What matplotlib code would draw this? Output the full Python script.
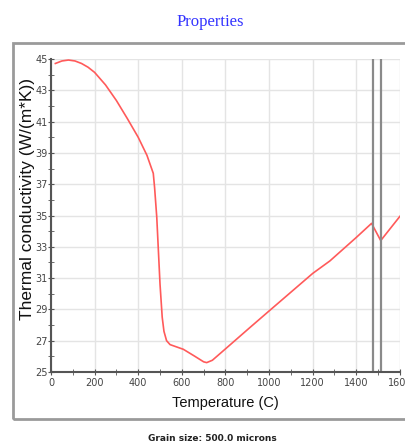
import matplotlib.pyplot as plt
from matplotlib.patches import Rectangle
from matplotlib.ticker import MultipleLocator

temperature = [20, 50, 80, 110, 140, 170, 200, 250, 300, 350, 400, 440, 469, 475, 485, 500,
               510, 518, 530, 546, 607, 660, 700, 714, 740, 806, 912, 1000, 1100, 1200,
               1279, 1400, 1470, 1512, 1600]
conductivity = [44.72, 44.88, 44.94, 44.88, 44.72, 44.48, 44.15, 43.35, 42.35, 41.2, 40.0,
                38.85, 37.7, 36.8, 34.9, 30.6, 28.5, 27.6, 27.0, 26.75, 26.45, 26.0, 25.65,
                25.6, 25.75, 26.55, 27.84, 28.9, 30.1, 31.3, 32.1, 33.6, 34.5, 33.4, 34.95]
phase_lines = [1475, 1512]

tick_font = ['DejaVu Sans Condensed', 'Liberation Sans Narrow', 'DejaVu Sans']

fig = plt.figure(figsize=(4.06, 4.47), dpi=100)
ax = fig.add_axes([0.1256, 0.1678, 0.8594, 0.700])

# grey frame around the plot panel
fig.patches.append(Rectangle((0.032, 0.0626), 1.2, 0.8414, transform=fig.transFigure,
                             fill=False, edgecolor='#9a9a9a', linewidth=2))

ax.plot(temperature, conductivity, color='#ff5a5a', linewidth=1.2)
for t in phase_lines:
    ax.axvline(t, color='#8a8a8a', linewidth=1.6)

ax.set_xlim(0, 1600)
ax.set_ylim(25, 45)
ax.xaxis.set_major_locator(MultipleLocator(200))
ax.xaxis.set_minor_locator(MultipleLocator(100))
ax.set_yticks(range(25, 46, 2))
ax.yaxis.set_minor_locator(MultipleLocator(1))
ax.grid(True, which='major', color='#e4e4e4', linewidth=1)
ax.set_axisbelow(True)

for side in ['top', 'right']:
    ax.spines[side].set_visible(False)
for side in ['left', 'bottom']:
    ax.spines[side].set_color('#555555')
    ax.spines[side].set_linewidth(1.5)

ax.tick_params(which='both', direction='inout', colors='#555555', labelcolor='#444444',
               labelsize=7)
ax.tick_params(axis='x', pad=1.5)
ax.tick_params(axis='y', pad=0)
ax.tick_params(which='major', length=5)
ax.tick_params(which='minor', length=4)
for lbl in ax.get_xticklabels() + ax.get_yticklabels():
    lbl.set_family(tick_font)

ax.set_xlabel('Temperature (C)', fontsize=10.5, family=['Liberation Sans', 'DejaVu Sans'],
              color='#111111', labelpad=6)
ax.set_ylabel('Thermal conductivity (W/(m*K))', fontsize=12.5,
              family=['Liberation Sans', 'DejaVu Sans'], color='#111111')
ax.yaxis.set_label_coords(-0.045, 0.553)

fig.text(0.517, 0.951, 'Properties', ha='center', va='center', fontsize=12,
         family=['Liberation Serif', 'DejaVu Serif'], color='#3333ff')
fig.text(0.522, 0.02, 'Grain size: 500.0 microns', ha='center', va='center', fontsize=6.5,
         fontweight='bold', family=tick_font, color='#222222')

fig.savefig('out.png', dpi=100)
